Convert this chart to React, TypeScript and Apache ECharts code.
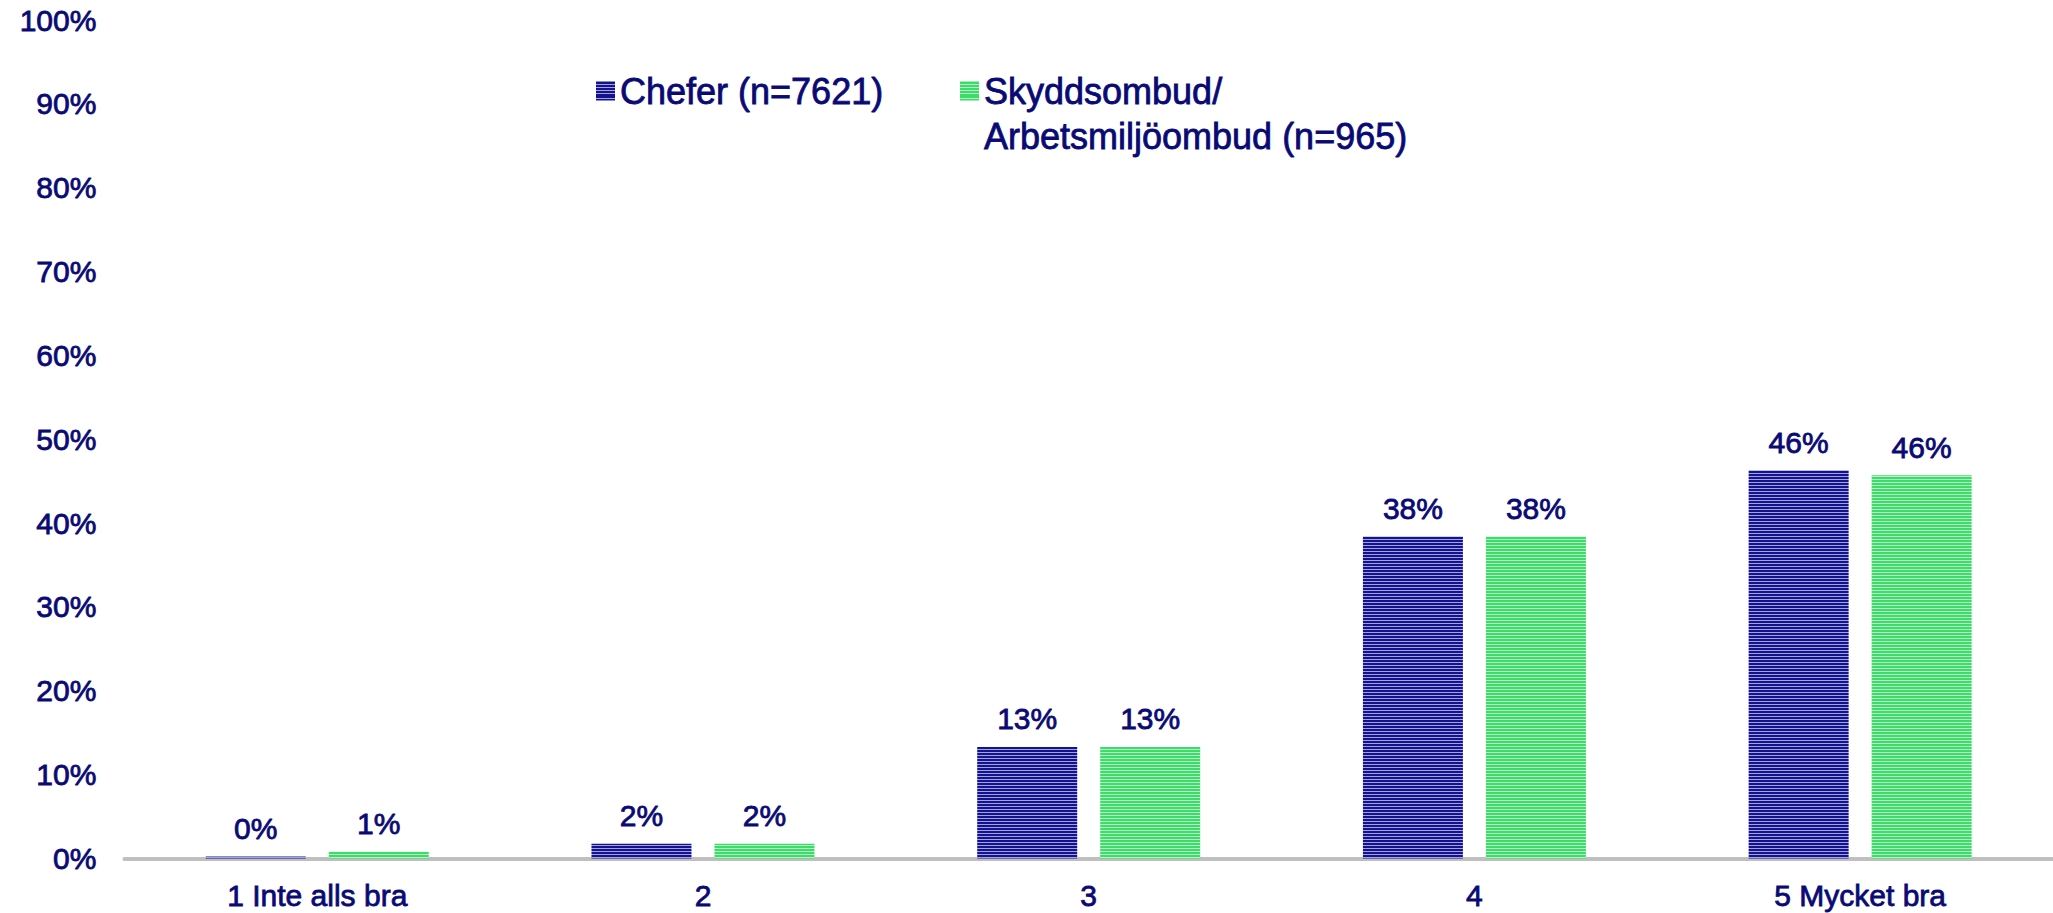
import React, { useEffect, useRef } from "react";
import * as echarts from "echarts";

const categories = ["1 Inte alls bra", "2", "3", "4", "5 Mycket bra"];
const seriesNames = ["Chefer (n=7621)", "Skyddsombud/\nArbetsmiljöombud (n=965)"];
const chefer = [0.25, 1.75, 13.3, 38.4, 46.3];
const skyddsombud = [0.8, 1.75, 13.3, 38.4, 45.7];
const yTicks = { min: 0, max: 100, interval: 10 };

const TEXT = "#0a0a74";
const FONT = '"Liberation Sans", Arial, sans-serif';
const thick = { textBorderColor: TEXT, textBorderWidth: 0.8 };

function stripes(dark: string, light: string) {
  const total = 912;
  const stops: { offset: number; color: string }[] = [];
  for (let y = 0; y < total; y += 3) {
    stops.push({ offset: y / total, color: dark });
    stops.push({ offset: (y + 2) / total, color: dark });
    stops.push({ offset: (y + 2) / total, color: light });
    stops.push({ offset: Math.min(1, (y + 3) / total), color: light });
  }
  return new echarts.graphic.LinearGradient(0, 0, 0, total, stops, true);
}

export default function App() {
  const ref = useRef<HTMLDivElement>(null);
  useEffect(() => {
    document.body.style.margin = "0";
    if (!ref.current) return;
    const chart = echarts.init(ref.current, null, { renderer: "svg" });
    const blue = stripes("#14148a", "#a2a2ec");
    const green = stripes("#3ddc6a", "#b4f3c6");
    const label = {
      show: true,
      position: "top",
      distance: 13,
      color: TEXT,
      fontSize: 30,
      fontFamily: FONT,
      ...thick,
      formatter: (p: any) => Math.round(p.value) + "%",
    };
    const legendText = {
      color: TEXT,
      fontSize: 36,
      lineHeight: 45,
      fontFamily: FONT,
      ...thick,
    };
    chart.setOption({
      animation: false,
      backgroundColor: "#ffffff",
      textStyle: { fontFamily: FONT },
      grid: { left: 124.4, width: 1939, top: 20, bottom: 54.5, containLabel: false },
      legend: [
        {
          data: [seriesNames[0]],
          left: 596,
          top: 68.5,
          padding: 0,
          icon: "rect",
          itemWidth: 19,
          itemHeight: 19,
          itemGap: 10,
          selectedMode: false,
          textStyle: legendText,
        },
        {
          data: [seriesNames[1]],
          left: 960,
          top: 23.5,
          padding: 0,
          icon: "rect",
          itemWidth: 19,
          itemHeight: 19,
          selectedMode: false,
          formatter: (name: string) => "\n" + name,
          textStyle: legendText,
        },
      ],
      xAxis: {
        type: "category",
        data: categories,
        axisTick: { show: false },
        axisLine: { lineStyle: { color: "#bfbfbf", width: 4 } },
        axisLabel: { color: TEXT, fontSize: 30, margin: 22, fontFamily: FONT, ...thick },
      },
      yAxis: {
        type: "value",
        min: yTicks.min,
        max: yTicks.max,
        interval: yTicks.interval,
        axisLine: { show: false },
        axisTick: { show: false },
        splitLine: { show: false },
        axisLabel: {
          color: TEXT,
          fontSize: 30,
          margin: 28,
          fontFamily: FONT,
          ...thick,
          formatter: "{value}%",
        },
      },
      series: [
        {
          name: seriesNames[0],
          type: "bar",
          data: chefer,
          barWidth: 100,
          barGap: "23%",
          itemStyle: { color: blue },
          label,
        },
        {
          name: seriesNames[1],
          type: "bar",
          data: skyddsombud,
          barWidth: 100,
          barGap: "23%",
          itemStyle: { color: green },
          label,
        },
      ],
    });
    return () => chart.dispose();
  }, []);
  return <div ref={ref} style={{ width: 2053, height: 913 }} />;
}
